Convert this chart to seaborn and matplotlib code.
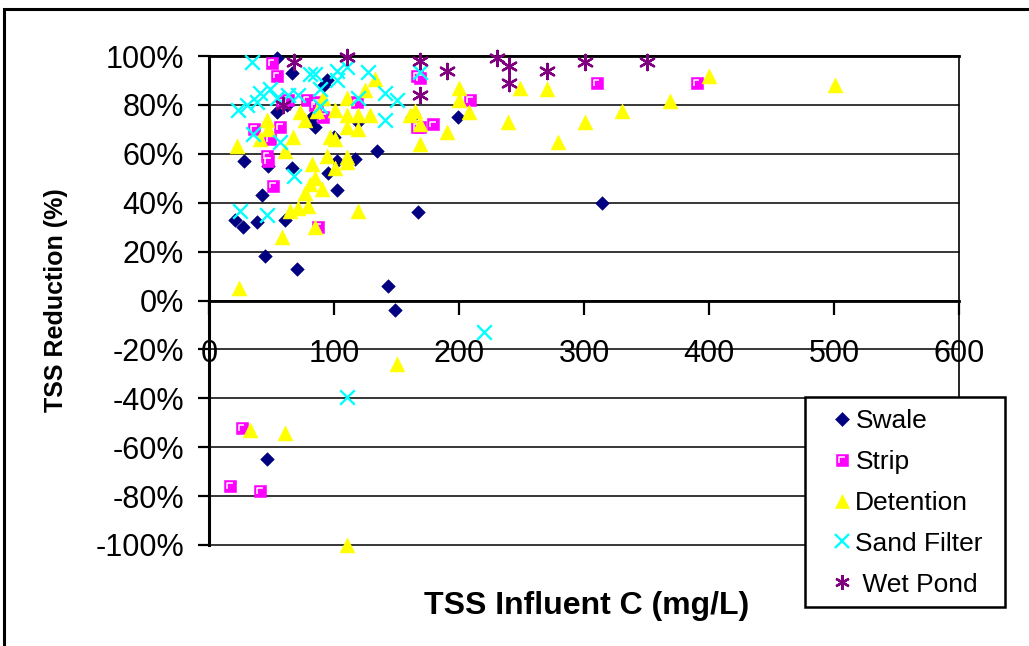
import numpy as np
import pandas as pd
import matplotlib
matplotlib.use("Agg")
import matplotlib.pyplot as plt
import seaborn as sns
from matplotlib.path import Path
from matplotlib.lines import Line2D
from matplotlib.patches import Rectangle
from matplotlib.ticker import FuncFormatter

# ---------------- data ----------------
series_names = ["Swale", "Strip", "Detention", "Sand Filter", "Wet Pond"]
legend_labels = ["Swale", "Strip", "Detention", "Sand Filter", " Wet Pond"]

swale_x = [54, 66, 94, 92, 54, 82, 85, 119, 162, 199, 134, 117, 102, 28, 47, 66, 95, 102,
           42, 21, 27, 38, 61, 45, 70, 167, 143, 149, 314, 46, 100, 62]
swale_y = [99, 93, 90, 88, 77, 75, 71, 73, 75, 75, 61, 58, 57, 57, 55, 54, 52, 45,
           43, 33, 30, 32, 33, 18, 13, 36, 6, -4, 40, -65, 67, 80]

strip_x = [50, 54, 63, 58, 78, 86, 57, 49, 46, 47, 51, 87, 85, 91, 118, 166, 166, 169,
           209, 179, 169, 310, 390, 26, 17, 41, 36]
strip_y = [97, 92, 82, 81, 82, 81, 71, 66, 59, 57, 47, 30, 80, 75, 81, 71, 92, 91,
           82, 72, 71, 89, 89, -52, -76, -78, 70]

det_x = [22, 24, 33, 61, 110, 150, 58, 65, 71, 79, 77, 81, 82, 119, 85, 90, 85, 101, 110,
         61, 46, 47, 41, 67, 73, 77, 133, 110, 125, 101, 110, 129, 119, 110, 119, 97, 101,
         94, 110, 86, 91, 161, 200, 200, 208, 165, 169, 190, 169, 239, 249, 270, 301, 279,
         330, 369, 400, 501]
det_y = [63, 5, -53, -54, -100, -26, 26, 36.5, 38, 38.5, 44, 47.5, 56, 36.5, 30, 45.5, 50, 54,
         56.5, 61, 74, 70, 66, 67, 77, 74, 90.6, 83, 86, 78, 76, 76, 76, 71, 70, 67, 66,
         59, 58.6, 77.5, 83, 76, 87, 82, 77, 77.5, 72, 69, 64, 73, 87, 86.5, 73, 65,
         77.5, 81.5, 92, 88]

sand_x = [34, 23, 30, 38, 41, 49, 54, 63, 71, 81, 35, 57, 25, 46, 68, 85, 102, 110, 127,
          141, 150, 141, 119, 89, 89, 102, 169, 110, 220]
sand_y = [97.5, 78, 80, 81, 85, 86.5, 83, 84, 84, 92.6, 68, 65, 36.5, 35, 51, 92.6, 94, 95.5,
          93.4, 85, 82, 74, 83, 79.5, 86.5, 90, 93.4, -39.5, -13]

pond_x = [68, 59, 110, 169, 169, 190, 230, 240, 240, 301, 350, 270]
pond_y = [97.5, 80, 99.6, 98, 84, 94, 99, 96, 89, 97.5, 97.5, 94]

x_ticks = [0, 100, 200, 300, 400, 500, 600]
y_ticks = [-100, -80, -60, -40, -20, 0, 20, 40, 60, 80, 100]

x_label = "TSS Influent C (mg/L)"
y_label = "TSS Reduction (%)"

# ---------------- style ----------------
sns.set_theme(style="white")
plt.rcParams["font.family"] = ["Liberation Sans", "DejaVu Sans"]
plt.rcParams["axes.unicode_minus"] = False
plt.rcParams["text.color"] = "black"
plt.rcParams["axes.labelcolor"] = "black"
plt.rcParams["xtick.color"] = "black"
plt.rcParams["ytick.color"] = "black"

W, H = 1029, 646
fig = plt.figure(figsize=(W / 100, H / 100), dpi=100)
L, R, T, B = 209, 959, 56, 545
ax = fig.add_axes([L / W, 1 - B / H, (R - L) / W, (B - T) / H])

colors = {"Swale": "#000080", "Strip": "#FF00FF", "Detention": "#FFFF00",
          "Sand Filter": "#00FFFF", "Wet Pond": "#800080"}

corner = Path([(-0.5, -0.5), (-0.5, 0.5), (0.5, 0.5)],
              [Path.MOVETO, Path.LINETO, Path.LINETO])

df_sw = pd.DataFrame({"x": swale_x, "y": swale_y})
df_st = pd.DataFrame({"x": strip_x, "y": strip_y})
df_de = pd.DataFrame({"x": det_x, "y": det_y})
df_sa = pd.DataFrame({"x": sand_x, "y": sand_y})
df_po = pd.DataFrame({"x": pond_x, "y": pond_y})

common = dict(ax=ax, clip_on=False)
sns.scatterplot(data=df_sw, x="x", y="y", marker="D", s=48,
                color=colors["Swale"], edgecolor=colors["Swale"], linewidth=0.4,
                zorder=3, **common)
sns.scatterplot(data=df_st, x="x", y="y", marker="s", s=78,
                color=colors["Strip"], edgecolor=colors["Strip"], linewidth=0.4,
                zorder=4, **common)
sns.scatterplot(data=df_st, x="x", y="y", marker=corner, s=17,
                facecolor="none", edgecolor="white", linewidth=1.1, zorder=4.1, **common)
sns.scatterplot(data=df_de, x="x", y="y", marker="^", s=115,
                color=colors["Detention"], edgecolor=colors["Detention"], linewidth=0.4,
                zorder=5, **common)
sns.scatterplot(data=df_sa, x="x", y="y", marker="x", s=110,
                color=colors["Sand Filter"], linewidth=1.7, zorder=6, **common)
sns.scatterplot(data=df_po, x="x", y="y", marker=(6, 2, 0), s=120,
                color=colors["Wet Pond"], linewidth=1.7, zorder=7, **common)

ax.set_xlim(0, 600)
ax.set_ylim(-100, 100)
ax.set_xticks(x_ticks)
ax.set_yticks(y_ticks)
ax.yaxis.set_major_formatter(FuncFormatter(lambda v, p: f"{v:.0f}%"))
ax.xaxis.set_major_formatter(FuncFormatter(lambda v, p: f"{v:.0f}"))

for yv in y_ticks:
    ax.axhline(yv, color="black", lw=1.1, zorder=1, clip_on=False)

ax.spines["left"].set_linewidth(2.2)
ax.spines["left"].set_color("black")
ax.spines["bottom"].set_position(("data", 0))
ax.spines["bottom"].set_linewidth(2.0)
ax.spines["bottom"].set_color("black")
ax.spines["top"].set_linewidth(2.0)
ax.spines["top"].set_color("black")
ax.spines["right"].set_linewidth(1.2)
ax.spines["right"].set_color("black")

ax.tick_params(axis="x", direction="out", length=10, width=1.6, pad=17.5,
               labelsize=22, colors="black", bottom=True)
ax.tick_params(axis="y", direction="out", length=8, width=1.6, pad=10,
               labelsize=22, colors="black", left=True)

ax.set_xlabel(x_label, fontsize=23, fontweight="bold", va="center", color="black")
ax.xaxis.set_label_coords(0.504, (B - 606) / (B - T))
ax.set_ylabel(y_label, fontsize=18, fontweight="bold", va="center", ha="center", color="black")
ax.yaxis.set_label_coords((56 - L) / (R - L), (B - 300) / (B - T))

# legend (entries without frame; the box is drawn separately)
h_sw = Line2D([], [], ls="none", marker="D", ms=7, color=colors["Swale"], mec=colors["Swale"], mew=0.4)
h_st = (Line2D([], [], ls="none", marker="s", ms=8.5, color=colors["Strip"], mec=colors["Strip"], mew=0.4),
        Line2D([], [], ls="none", marker=corner, ms=4.1, mfc="none", mec="white", mew=1.1))
h_de = Line2D([], [], ls="none", marker="^", ms=10, color=colors["Detention"], mec=colors["Detention"], mew=0.4)
h_sa = Line2D([], [], ls="none", marker="x", ms=10, color=colors["Sand Filter"], mew=1.7)
h_po = Line2D([], [], ls="none", marker=(6, 2, 0), ms=10.5, color=colors["Wet Pond"], mew=1.7)
leg = fig.legend([h_sw, h_st, h_de, h_sa, h_po], legend_labels,
                 loc="upper left", bbox_to_anchor=(825 / W, 1 - 409 / H),
                 fontsize=19, frameon=False, borderpad=0, labelspacing=0.64,
                 handlelength=1.3, handletextpad=-0.15, borderaxespad=0,
                 labelcolor="black")

fig.patches.append(Rectangle((805 / W, 1 - 607 / H), 200 / W, 210 / H, transform=fig.transFigure,
                             facecolor="white", edgecolor="black", linewidth=1.8, zorder=0.5))

# outer chart frame
fig.patches.append(Rectangle((4 / W, -0.05), 1.2, 1 - 9 / H + 0.05, transform=fig.transFigure,
                             fill=False, edgecolor="black", linewidth=2.2, clip_on=False))

fig.savefig("out.png", dpi=100, facecolor="white")
